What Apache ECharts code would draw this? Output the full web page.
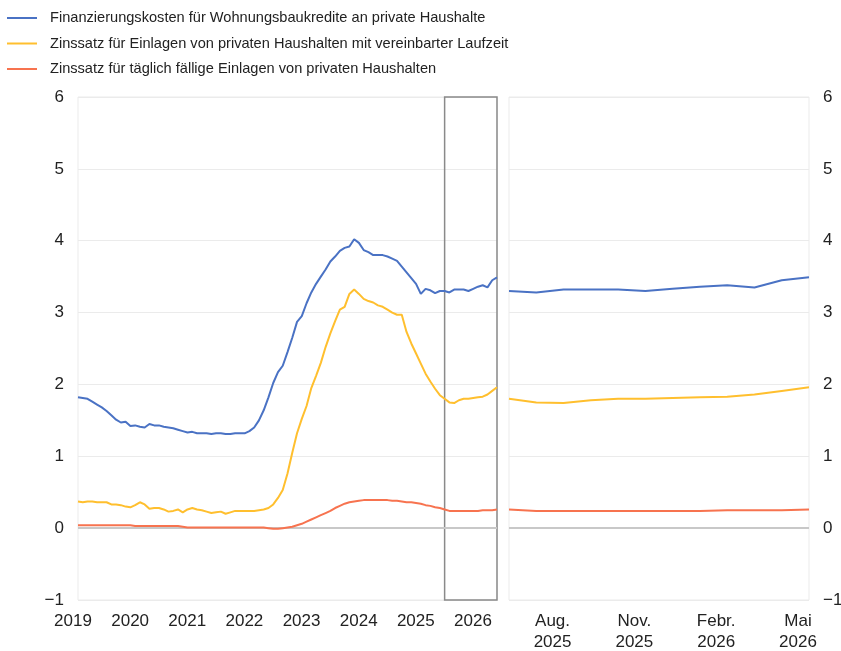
<!DOCTYPE html>
<html>
<head>
<meta charset="utf-8">
<script src="https://cdn.jsdelivr.net/npm/echarts@6/dist/echarts.min.js"></script>
<style>
html,body{margin:0;padding:0;background:#fff;}
#chart{width:841px;height:651px;}
</style>
</head>
<body>
<div id="chart"></div>
<script>
// Monthly categories Jan 2019 .. May 2026
const startYear = 2019, endYear = 2026, endMonth = 5;
const months = [];
for (let y = startYear; y <= endYear; y++) {
  for (let m = 1; m <= 12; m++) {
    if (y === endYear && m > endMonth) break;
    months.push(y + '-' + String(m).padStart(2, '0'));
  }
}
const zoomStart = '2025-06';

const seriesNames = [
  'Finanzierungskosten für Wohnungsbaukredite an private Haushalte',
  'Zinssatz für Einlagen von privaten Haushalten mit vereinbarter Laufzeit',
  'Zinssatz für täglich fällige Einlagen von privaten Haushalten'
];

const financingCosts = [
  1.82,1.81,1.80,1.76,1.72,1.68,1.63,1.57,1.51,1.47,1.48,1.42,
  1.43,1.41,1.40,1.45,1.43,1.43,1.41,1.40,1.39,1.37,1.35,1.33,
  1.34,1.32,1.32,1.32,1.31,1.32,1.32,1.31,1.31,1.32,1.32,1.32,
  1.35,1.40,1.50,1.64,1.82,2.02,2.17,2.26,2.45,2.65,2.87,2.95,
  3.13,3.28,3.40,3.50,3.60,3.71,3.78,3.86,3.90,3.92,4.02,3.97,
  3.87,3.84,3.80,3.80,3.80,3.78,3.75,3.72,3.64,3.56,3.48,3.40,
  3.26,3.33,3.31,3.27,3.30,3.30,3.28,3.32,3.32,3.32,3.30,3.33,
  3.36,3.38,3.35,3.45,3.49
];

const termDeposits = [
  0.37,0.36,0.37,0.37,0.36,0.36,0.36,0.33,0.33,0.32,0.30,0.29,
  0.32,0.36,0.33,0.27,0.28,0.28,0.26,0.23,0.24,0.26,0.22,0.26,
  0.28,0.26,0.25,0.23,0.21,0.22,0.23,0.20,0.22,0.24,0.24,0.24,
  0.24,0.24,0.25,0.26,0.28,0.33,0.42,0.53,0.76,1.05,1.32,1.52,
  1.70,1.95,2.12,2.30,2.52,2.71,2.88,3.04,3.08,3.26,3.32,3.26,
  3.19,3.16,3.14,3.10,3.08,3.04,3.00,2.97,2.97,2.73,2.57,2.43,
  2.29,2.15,2.04,1.94,1.85,1.80,1.75,1.74,1.78,1.80,1.80,1.81,
  1.82,1.83,1.86,1.91,1.96
];

const overnightDeposits = [
  0.04,0.04,0.04,0.04,0.04,0.04,0.04,0.04,0.04,0.04,0.04,0.04,
  0.03,0.03,0.03,0.03,0.03,0.03,0.03,0.03,0.03,0.03,0.02,0.01,
  0.01,0.01,0.01,0.01,0.01,0.01,0.01,0.01,0.01,0.01,0.01,0.01,
  0.01,0.01,0.01,0.01,0.00,-0.01,-0.01,0.00,0.01,0.02,0.04,0.06,
  0.09,0.12,0.15,0.18,0.21,0.24,0.28,0.31,0.34,0.36,0.37,0.38,
  0.39,0.39,0.39,0.39,0.39,0.39,0.38,0.38,0.37,0.36,0.36,0.35,
  0.34,0.32,0.31,0.29,0.28,0.26,0.24,0.24,0.24,0.24,0.24,0.24,
  0.24,0.25,0.25,0.25,0.26
];

const yearLabels = ['2019','2020','2021','2022','2023','2024','2025','2026'];
const zoomTickMonths = ['2025-08','2025-11','2026-02','2026-05'];
const zoomTickLabels = ['Aug.\n2025','Nov.\n2025','Febr.\n2026','Mai\n2026'];

const colors = ['#4a72c4', '#ffbf2e', '#f7734f'];
const allData = [financingCosts, termDeposits, overnightDeposits];
const zi = months.indexOf(zoomStart);
const zoomMonths = months.slice(zi);

const font = '"Liberation Sans", Arial, sans-serif';
const txt = '#222';

const yAxisCommon = {
  type: 'value', min: -1, max: 6, interval: 1,
  axisLine: {show: false}, axisTick: {show: false},
  splitLine: {lineStyle: {color: '#ebebeb', width: 1}},
  axisLabel: {
    color: txt, fontFamily: font, fontSize: 17, margin: 14,
    formatter: v => v < 0 ? '\u2212' + Math.abs(v) : String(v)
  }
};

const zeroLine = {
  silent: true, symbol: 'none', label: {show: false},
  lineStyle: {color: '#c8c8c8', width: 2, type: 'solid'},
  data: [{yAxis: 0}]
};

const series = [];
allData.forEach((d, i) => {
  const s = {
    name: seriesNames[i], type: 'line', xAxisIndex: 0, yAxisIndex: 0,
    data: d, symbol: 'none', lineStyle: {width: 2, color: colors[i]},
    itemStyle: {color: colors[i]}, z: 3 + i
  };
  if (i === 0) {
    s.markLine = zeroLine;
    s.markArea = {
      silent: true,
      itemStyle: {color: 'rgba(0,0,0,0)', borderColor: '#8a8a8a', borderWidth: 1.5},
      data: [[{xAxis: zoomStart, yAxis: -1}, {xAxis: months[months.length - 1], yAxis: 6}]]
    };
  }
  series.push(s);
});
allData.forEach((d, i) => {
  const s = {
    name: seriesNames[i], type: 'line', xAxisIndex: 1, yAxisIndex: 1,
    data: d.slice(zi), symbol: 'none', lineStyle: {width: 2, color: colors[i]},
    itemStyle: {color: colors[i]}, z: 3 + i
  };
  if (i === 0) s.markLine = zeroLine;
  series.push(s);
});

const chart = echarts.init(document.getElementById('chart'), null, {renderer: 'canvas'});
chart.setOption({
  animation: false,
  backgroundColor: '#fff',
  color: colors,
  legend: {
    orient: 'vertical', left: 7, top: 10, padding: 0,
    icon: 'rect', itemWidth: 30, itemHeight: 2, itemGap: 9.5,
    data: seriesNames,
    textStyle: {color: txt, fontFamily: font, fontSize: 14.6, lineHeight: 16, padding: [0, 0, 0, 8]}
  },
  grid: [
    {left: 78, top: 97, width: 419, height: 503, show: true, borderColor: '#ebebeb', borderWidth: 1, containLabel: false, outerBoundsMode: 'none'},
    {left: 509, top: 97, width: 300, height: 503, show: true, borderColor: '#ebebeb', borderWidth: 1, containLabel: false, outerBoundsMode: 'none'}
  ],
  xAxis: [
    {
      type: 'category', gridIndex: 0, data: months, boundaryGap: false,
      axisLine: {show: false}, axisTick: {show: false}, splitLine: {show: false},
      axisLabel: {
        color: txt, fontFamily: font, fontSize: 17, lineHeight: 21, margin: 11,
        padding: [0, 10, 0, 0],
        interval: (idx, val) => val.endsWith('-01'),
        formatter: val => yearLabels[yearLabels.indexOf(val.slice(0, 4))]
      }
    },
    {
      type: 'category', gridIndex: 1, data: zoomMonths, boundaryGap: false,
      axisLine: {show: false}, axisTick: {show: false}, splitLine: {show: false},
      axisLabel: {
        color: txt, fontFamily: font, fontSize: 17, lineHeight: 21, margin: 11,
        padding: [0, 22, 0, 0],
        interval: (idx, val) => zoomTickMonths.indexOf(val) >= 0,
        formatter: val => zoomTickLabels[zoomTickMonths.indexOf(val)] || ''
      }
    }
  ],
  yAxis: [
    Object.assign({}, yAxisCommon, {gridIndex: 0, position: 'left'}),
    Object.assign({}, yAxisCommon, {gridIndex: 1, position: 'right'})
  ],
  series: series
});
</script>
</body>
</html>
